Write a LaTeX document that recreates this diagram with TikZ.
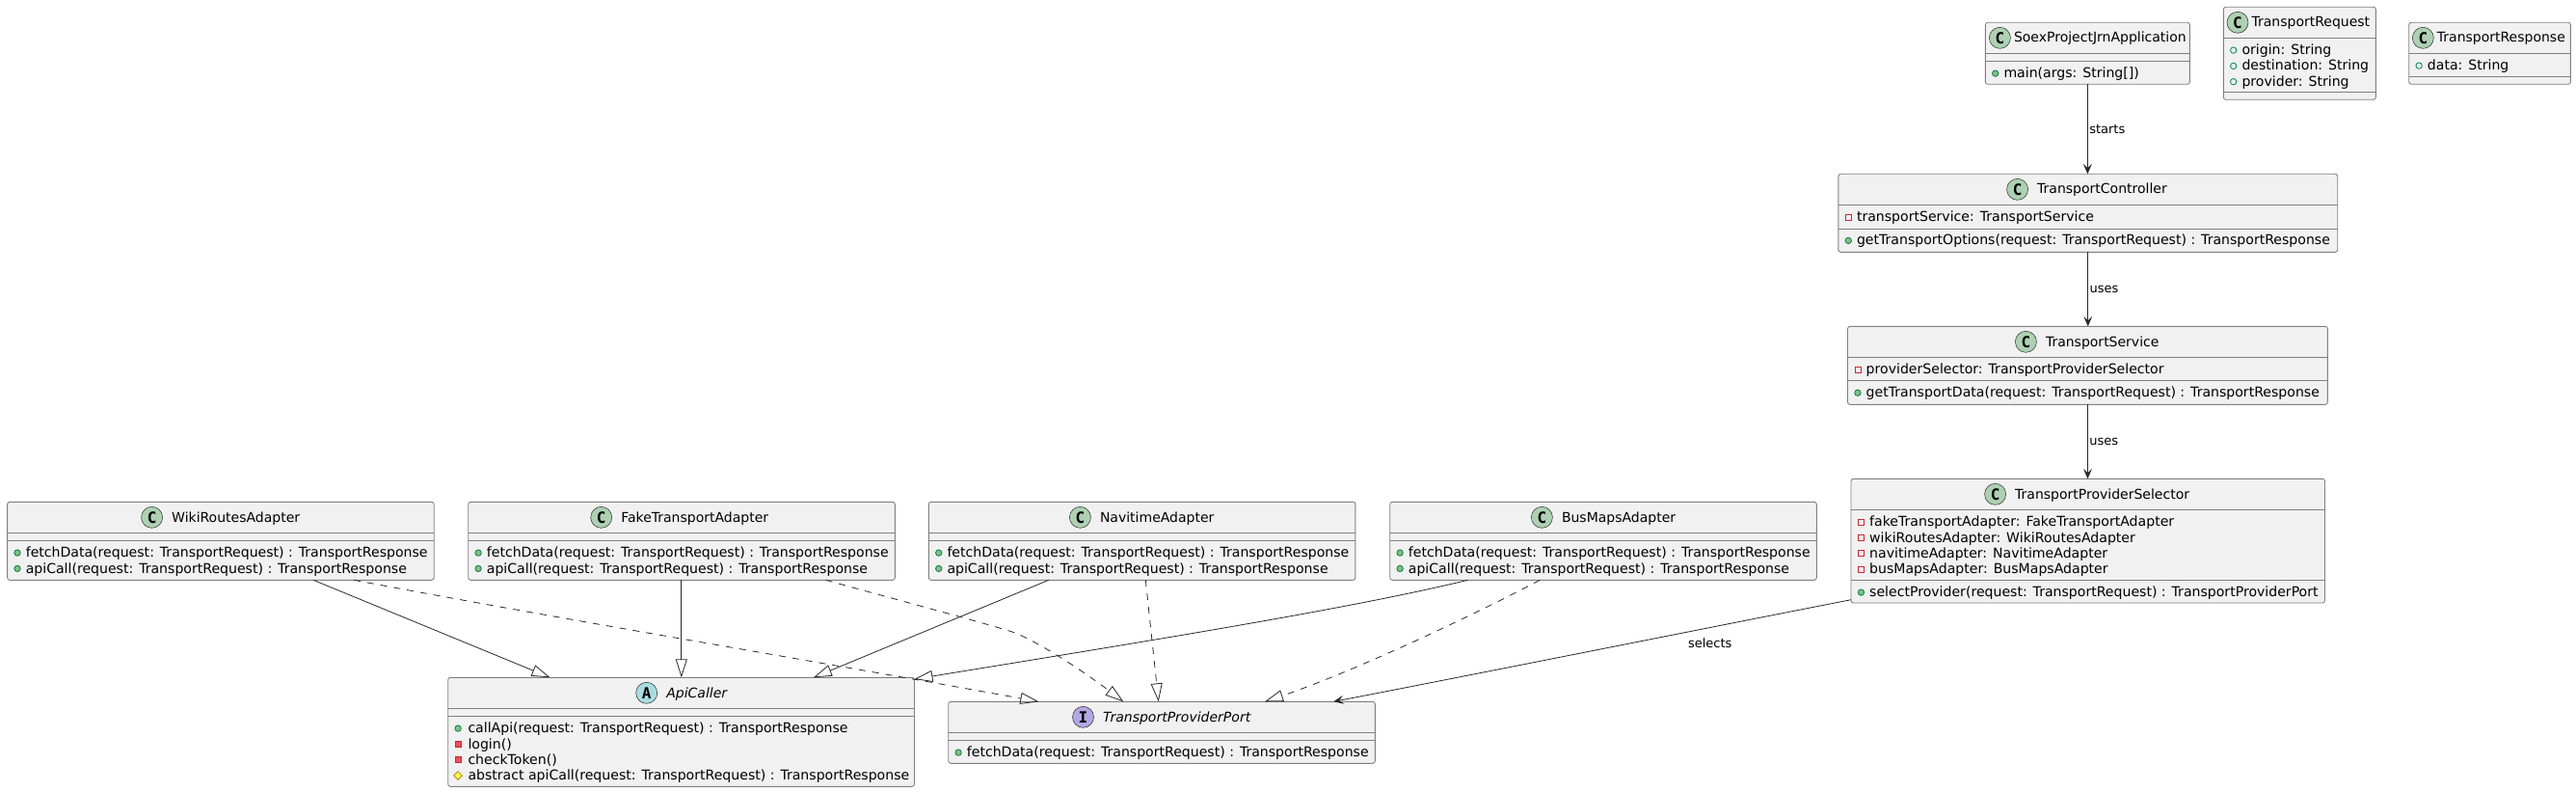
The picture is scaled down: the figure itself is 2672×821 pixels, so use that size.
\documentclass[tikz,border=0pt]{standalone}
\usepackage{fontspec}
\usepackage{tikz}
\usetikzlibrary{arrows.meta,positioning,shapes.geometric}
\setmainfont{DejaVu Sans}
\newfontfamily\iconfont{DejaVu Sans Mono}

\definecolor{boxgray}{HTML}{F1F1F1}
\definecolor{boxline}{HTML}{808080}
\definecolor{linedark}{HTML}{282828}

\tikzset{
	classbody/.style={draw=boxline, fill=boxgray, rounded corners=2.5pt, line width=0.9pt, inner sep=0pt, outer sep=0pt, anchor=north west},
	classline/.style={draw=boxline, line width=0.9pt},
	classicon/.style={circle, draw=linedark, line width=0.5pt, minimum size=22pt, inner sep=0pt, outer sep=0pt, font=\iconfont\bfseries\fontsize{16pt}{16pt}\selectfont},
	iconC/.style={classicon, fill={rgb,255:red,173;green,209;blue,178}},
	iconA/.style={classicon, fill={rgb,255:red,169;green,220;blue,223}},
	iconI/.style={classicon, fill={rgb,255:red,180;green,167;blue,229}},
	classtitle/.style={inner sep=0pt, outer sep=0pt, text height=11.4pt, text depth=2pt, font=\fontsize{14pt}{16pt}\selectfont},
	membertext/.style={inner sep=0pt, anchor=base west, font=\fontsize{14.08pt}{16pt}\selectfont},
	pubmethod/.style={circle, draw={rgb,255:red,3;green,128;blue,72}, fill={rgb,255:red,132;green,190;blue,132}, line width=0.8pt, minimum size=6.4pt, inner sep=0pt},
	pubfield/.style={circle, draw={rgb,255:red,3;green,128;blue,72}, line width=0.8pt, minimum size=6.4pt, inner sep=0pt},
	privmethod/.style={rectangle, draw={rgb,255:red,200;green,41;blue,48}, fill={rgb,255:red,242;green,77;blue,92}, line width=0.8pt, minimum size=6pt, inner sep=0pt},
	privfield/.style={rectangle, draw={rgb,255:red,200;green,41;blue,48}, line width=0.8pt, minimum size=6pt, inner sep=0pt},
	protmethod/.style={diamond, draw={rgb,255:red,179;green,141;blue,34}, fill={rgb,255:red,255;green,255;blue,68}, line width=0.8pt, minimum size=9pt, inner sep=0pt},
	extendsline/.style={draw=linedark, line width=0.8pt, -{Triangle[open,length=19pt,width=12pt]}},
	implementsline/.style={extendsline, dash pattern=on 7pt off 7pt},
	usesline/.style={draw=linedark, line width=0.8pt, -{Stealth[length=10.5pt,width=9pt,inset=4.5pt]}},
	edgelabel/.style={inner sep=1.5pt, font=\fontsize{13pt}{15pt}\selectfont},
}

% id, x, y, width, height, offset of second line
\newcommand{\classbox}[6]{
	\node[classbody, minimum width=#4pt, minimum height=#5pt] (#1) at (#2,#3) {};
	\draw[classline] ([yshift=-32pt]#1.north west) -- ([yshift=-32pt]#1.north east);
	\draw[classline] ([yshift=-#6pt]#1.north west) -- ([yshift=-#6pt]#1.north east);
}
% [gap], id, x offset of icon, icon style, letter, title
\newcommand{\classhead}[6][9.6]{
	\node[#4] (#2C) at ([shift={(#3,16)}]#2.north west) {#5};
	\node[classtitle, right=#1pt of #2C] (#2T) {#6};
}
% [x offset of text], id, row, icon style, y offset of baseline, text
\newcommand{\member}[6][19]{
	\node[#4] (#2I#3) at ([shift={(10.4,#5-4.6)}]#2.north west) {};
	\node[membertext] (#2M#3) at ([shift={(#1,#5)}]#2.north west) {#6};
}

\begin{document}
\begin{tikzpicture}[x=1pt,y=-1pt]
	\useasboundingbox (0,0) rectangle (2672,821);

	\classbox{soex}{2059.3}{23.3}{212.1}{64}{40}
	\classhead[3.6]{soex}{15.1}{iconC}{C}{SoexProjectJrnApplication}
	\member{soex}{1}{pubmethod}{57.4}{main(args: String[])}

	\classbox{request}{2306.3}{7.3}{158}{96}{88}
	\classhead[3.6]{request}{14.7}{iconC}{C}{TransportRequest}
	\member{request}{1}{pubfield}{49.4}{origin: String}
	\member{request}{2}{pubfield}{65.7}{destination: String}
	\member{request}{3}{pubfield}{82}{provider: String}

	\classbox{response}{2498.7}{23.3}{167.7}{64}{56}
	\classhead[3.6]{response}{14.6}{iconC}{C}{TransportResponse}
	\member{response}{1}{pubfield}{49.4}{data: String}

	\classbox{controller}{1906.8}{180.3}{517.9}{81}{57}
	\classhead{controller}{185.8}{iconC}{C}{TransportController}
	\member{controller}{1}{privfield}{49.5}{transportService: TransportService}
	\member{controller}{2}{pubmethod}{73.7}{getTransportOptions(request: TransportRequest) : TransportResponse}

	\classbox{service}{1916.5}{338.3}{497.9}{81}{56}
	\classhead{service}{184.9}{iconC}{C}{TransportService}
	\member{service}{1}{privfield}{49.5}{providerSelector: TransportProviderSelector}
	\member{service}{2}{pubmethod}{73.5}{getTransportData(request: TransportRequest) : TransportResponse}

	\classbox{selector}{1920}{496.3}{491.5}{128.7}{105}
	\classhead{selector}{149.6}{iconC}{C}{TransportProviderSelector}
	\member{selector}{1}{privfield}{49.4}{fakeTransportAdapter: FakeTransportAdapter}
	\member{selector}{2}{privfield}{65.7}{wikiRoutesAdapter: WikiRoutesAdapter}
	\member{selector}{3}{privfield}{82}{navitimeAdapter: NavitimeAdapter}
	\member{selector}{4}{privfield}{98.3}{busMapsAdapter: BusMapsAdapter}
	\member{selector}{5}{pubmethod}{122.4}{selectProvider(request: TransportRequest) : TransportProviderPort}

	\foreach \id/\boxx/\iconx/\name in {wiki/7.6/150/WikiRoutesAdapter, fake/485.7/138/FakeTransportAdapter, navitime/963.3/157.1/NavitimeAdapter, busmaps/1441.7/157.7/BusMapsAdapter} {
		\classbox{\id}{\boxx}{520.3}{442.6}{81}{40}
		\classhead{\id}{\iconx}{iconC}{C}{\name}
		\member{\id}{1}{pubmethod}{57.4}{fetchData(request: TransportRequest) : TransportResponse}
		\member{\id}{2}{pubmethod}{73.7}{apiCall(request: TransportRequest) : TransportResponse}
	}

	\classbox{apicaller}{464.7}{702.3}{483.8}{113}{40}
	\classhead{apicaller}{206}{iconA}{A}{\itshape ApiCaller}
	\member[20.6]{apicaller}{1}{pubmethod}{57.4}{callApi(request: TransportRequest) : TransportResponse}
	\member[20.6]{apicaller}{2}{privmethod}{73.7}{login()}
	\member[20.6]{apicaller}{3}{privmethod}{90}{checkToken()}
	\member[20.6]{apicaller}{4}{protmethod}{106.3}{abstract apiCall(request: TransportRequest) : TransportResponse}

	\classbox{port}{983.7}{727.3}{442.6}{64}{40}
	\classhead{port}{139.8}{iconI}{I}{\itshape TransportProviderPort}
	\member{port}{1}{pubmethod}{57.4}{fetchData(request: TransportRequest) : TransportResponse}

	\draw[usesline] (soex.south) -- node[edgelabel, right] (startsL) {starts} (soex.south |- controller.north);
	\draw[usesline] (controller.south) -- node[edgelabel, right] (usesA) {uses} (controller.south |- service.north);
	\draw[usesline] (service.south) -- node[edgelabel, right] (usesB) {uses} (service.south |- selector.north);

	\draw[extendsline] ([xshift=317.4pt]wiki.south west) -- ([xshift=105.8pt]apicaller.north west);
	\draw[implementsline] ([xshift=359.4pt]wiki.south west) .. controls (600,645) and (850,686) .. ([xshift=93.6pt]port.north west);
	\draw[extendsline] ([xshift=221.1pt]fake.south west) -- ([xshift=242.1pt]apicaller.north west);
	\draw[implementsline] ([xshift=370.9pt]fake.south west) .. controls (920,619) and (1000,640) .. (1047,654) .. controls (1070,661) and (1120,693) .. ([xshift=181.6pt]port.north west);
	\draw[extendsline] ([xshift=124.5pt]navitime.south west) -- ([xshift=379.2pt]apicaller.north west);
	\draw[implementsline] ([xshift=225pt]navitime.south west) -- ([xshift=218pt]port.north west);
	\draw[extendsline] ([xshift=80.9pt]busmaps.south west) .. controls (1400,631) and (1200,663) .. ([yshift=-1.7pt]apicaller.north east);
	\draw[implementsline] ([xshift=155.6pt]busmaps.south west) .. controls (1520,642) and (1400,697.6) .. ([xshift=328.3pt]port.north west);
	\draw[usesline] ([yshift=3.3pt]selector.south west) .. controls (1750,655) and (1530,699) .. node[edgelabel, pos=0.27, below=9pt] (selectsL) {selects} ([xshift=399.6pt]port.north west);
\end{tikzpicture}
\end{document}
